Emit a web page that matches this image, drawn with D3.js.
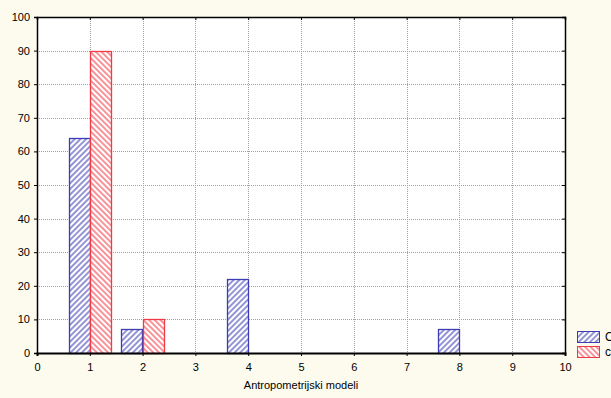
<!DOCTYPE html>
<html>
<head>
<meta charset="utf-8">
<script src="https://cdn.jsdelivr.net/npm/d3@7"></script>
<style>
  body { margin: 0; background: #fcfbee; }
  svg { display: block; font-family: "Liberation Sans", Arial, sans-serif; }
</style>
</head>
<body>
<svg id="graph"></svg>
<script>
// data
let models = [1, 2, 4, 8]
let seriesA = [64, 7, 22, 7]
let modelsB = [1, 2]
let seriesB = [90, 10]
let xTicks = d3.range(0, 11)
let yTicks = d3.range(0, 101, 10)
let legendLabels = ['Opažene', 'cilj']

let margin = {top: 17, bottom: 45, left: 37, right: 46}
let fullWidth = 611
let fullHeight = 398
let width = fullWidth - margin.left - margin.right
let height = fullHeight - margin.top - margin.bottom

let blue = '#3c3cb4'
let red = '#f23a46'

let svg = d3.select('svg#graph')
            .attr('width', fullWidth)
            .attr('height', fullHeight)

svg.append('rect')
   .attr('width', fullWidth)
   .attr('height', fullHeight)
   .attr('fill', '#fcfbee')

let defs = svg.append('defs')
function hatch(id, color, angle) {
    let p = defs.append('pattern')
                .attr('id', id)
                .attr('patternUnits', 'userSpaceOnUse')
                .attr('width', 4).attr('height', 4)
                .attr('patternTransform', 'rotate(' + angle + ')')
    p.append('rect').attr('width', 4).attr('height', 4).attr('fill', '#fff')
    p.append('line')
     .attr('x1', 1).attr('y1', -1).attr('x2', 1).attr('y2', 5)
     .attr('stroke', color).attr('stroke-width', 1.1)
}
hatch('hatchBlue', blue, 45)
hatch('hatchRed', red, -45)

let graph = svg.append('g')
               .attr('transform', 'translate(' + margin.left + ',' + margin.top + ')')

let x = d3.scaleLinear().domain([0, 10]).range([0, width])
let y = d3.scaleLinear().domain([0, 100]).range([height, 0])

graph.append('rect')
     .attr('width', width).attr('height', height)
     .attr('fill', '#fff')

// grid
graph.append('g').selectAll('line')
     .data(xTicks.slice(1, -1))
     .join('line')
     .attr('x1', d => Math.round(x(d)) + 0.5).attr('x2', d => Math.round(x(d)) + 0.5)
     .attr('y1', 0).attr('y2', height)
     .attr('stroke', '#a0a0a0').attr('stroke-dasharray', '1,1')
graph.append('g').selectAll('line')
     .data(yTicks.slice(1, -1))
     .join('line')
     .attr('y1', d => Math.round(y(d)) + 0.5).attr('y2', d => Math.round(y(d)) + 0.5)
     .attr('x1', 0).attr('x2', width)
     .attr('stroke', '#a0a0a0').attr('stroke-dasharray', '1,1')

let barW = x(0.4) - x(0)

graph.append('g').selectAll('rect')
     .data(models.map((m, i) => ({m, v: seriesA[i]})))
     .join('rect')
     .attr('x', d => Math.round(x(d.m) - barW) + 0.5)
     .attr('y', d => Math.round(y(d.v)) + 0.5)
     .attr('width', Math.round(barW))
     .attr('height', d => Math.round(height - y(d.v)))
     .attr('fill', 'url(#hatchBlue)')
     .attr('stroke', blue).attr('stroke-width', 1.3)

graph.append('g').selectAll('rect')
     .data(modelsB.map((m, i) => ({m, v: seriesB[i]})))
     .join('rect')
     .attr('x', d => Math.round(x(d.m)) + 0.5)
     .attr('y', d => Math.round(y(d.v)) + 0.5)
     .attr('width', Math.round(barW))
     .attr('height', d => Math.round(height - y(d.v)))
     .attr('fill', 'url(#hatchRed)')
     .attr('stroke', red).attr('stroke-width', 1.3)

// axes
let xAxis = graph.append('g')
     .attr('transform', 'translate(0,' + height + ')')
     .call(d3.axisBottom(x).tickValues(xTicks).tickSize(3).tickFormat(d3.format('d')))
let yAxis = graph.append('g')
     .call(d3.axisLeft(y).tickValues(yTicks).tickSize(3).tickFormat(d3.format('d')))
graph.append('g')
     .call(d3.axisTop(x).tickValues(xTicks).tickSize(-3).tickFormat(''))
graph.append('g')
     .attr('transform', 'translate(' + width + ',0)')
     .call(d3.axisRight(y).tickValues(yTicks).tickSize(-3).tickFormat(''))

graph.selectAll('.domain').attr('stroke', '#000').attr('stroke-width', 1.5)
graph.selectAll('.tick line').attr('stroke', '#000')
xAxis.select('.domain').attr('stroke-width', 2)
xAxis.selectAll('text').attr('font-size', 11).attr('fill', '#000').attr('dy', '1.1em')
yAxis.selectAll('text').attr('font-size', 11).attr('fill', '#000').attr('x', -7)

svg.append('text')
   .attr('x', margin.left + width / 2)
   .attr('y', 389)
   .attr('text-anchor', 'middle')
   .attr('font-size', 11)
   .text('Antropometrijski modeli')

// legend
let legend = svg.append('g').attr('transform', 'translate(577,331)')
let fills = ['url(#hatchBlue)', 'url(#hatchRed)']
let strokes = [blue, red]
legendLabels.forEach((lab, i) => {
    let g = legend.append('g').attr('transform', 'translate(0,' + i * 15 + ')')
    g.append('rect').attr('x', 0.5).attr('y', 0.5).attr('width', 22).attr('height', 11)
     .attr('fill', fills[i]).attr('stroke', strokes[i])
    g.append('text').attr('x', 28).attr('y', 10).attr('font-size', 12).text(lab)
})
</script>
</body>
</html>
